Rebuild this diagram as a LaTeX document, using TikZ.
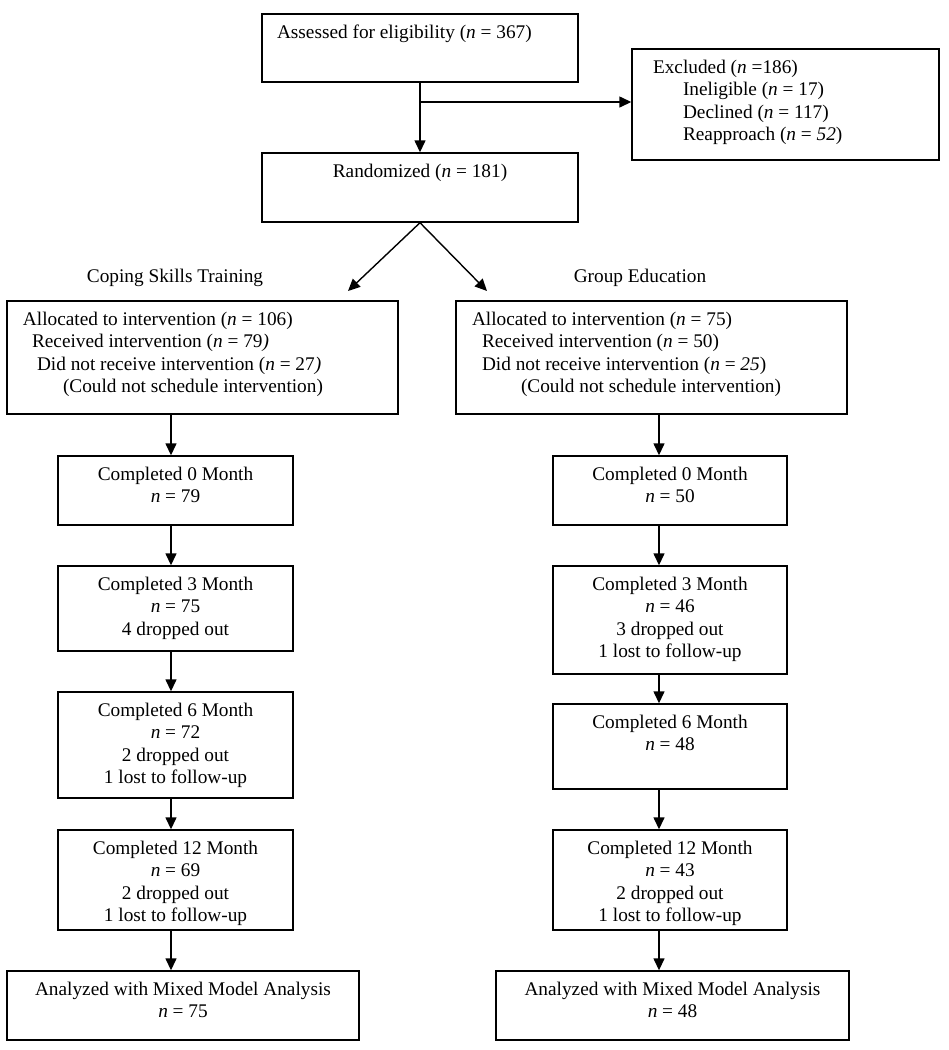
\documentclass[tikz,border=0pt]{standalone}
\usepackage{fontspec}
\setmainfont{Liberation Serif}
\usetikzlibrary{arrows.meta, positioning}

\newlength{\toppad}
\setlength{\toppad}{8.5pt}
\newcommand{\boxbody}[4][\centering]{\parbox[c][#3][t]{#2}{#1\vspace*{\toppad}\strut#4}}

\begin{document}
\begin{tikzpicture}[x=1pt, y=-1pt, font=\fontsize{19.3}{22.5}\selectfont,
    every node/.style={inner sep=0pt},
    box/.style={rectangle, draw, line width=1.4pt},
    arr/.style={-{Triangle[length=12pt, width=11pt]}, line width=1.4pt}]
    \useasboundingbox (0,0) rectangle (949,1050);

    \node[box] (assess) at (420,48) {\boxbody[\raggedright]{316pt}{68pt}{%
        \hspace*{15pt}Assessed for eligibility (\textit{n} = 367)}};
    \node[box] (excl) at (785.5,104.5) {\boxbody[\raggedright]{307pt}{111pt}{%
        \hspace*{21pt}Excluded (\textit{n} =186)\\
        \hspace*{51pt}Ineligible (\textit{n} = 17)\\
        \hspace*{51pt}Declined (\textit{n} = 117)\\
        \hspace*{51pt}Reapproach (\textit{n} = \textit{52})}};
    \node[box] (rand) at (420,187.5) {\boxbody{316pt}{69pt}{Randomized (\textit{n} = 181)}};

    \node (cstlabel) at (175,278) {Coping Skills Training};
    \node (gelabel) at (640,278) {Group Education};

    \node[box] (allocL) at (202.5,357.5) {\boxbody[\raggedright]{391pt}{113pt}{%
        \hspace*{16pt}Allocated to intervention (\textit{n} = 106)\\
        \hspace*{25pt}Received intervention (\textit{n} = 79\textit{)}\\
        \hspace*{30pt}Did not receive intervention (\textit{n} = 27\textit{)}\\
        \hspace*{56pt}(Could not schedule intervention)}};
    \node[box] (allocR) at (651.5,357.5) {\boxbody[\raggedright]{391pt}{113pt}{%
        \hspace*{16pt}Allocated to intervention (\textit{n} = 75)\\
        \hspace*{26pt}Received intervention (\textit{n} = 50)\\
        \hspace*{26pt}Did not receive intervention (\textit{n} = \textit{25})\\
        \hspace*{65pt}(Could not schedule intervention)}};

    \node[box] (cst0) at (175.5,490.5) {\boxbody{235pt}{69pt}{Completed 0 Month\\ \textit{n} = 79}};
    \node[box] (cst3) at (175.5,608.5) {\boxbody{235pt}{85pt}{Completed 3 Month\\ \textit{n} = 75\\ 4 dropped out}};
    \node[box] (cst6) at (175.5,745) {\boxbody{235pt}{106pt}{Completed 6 Month\\ \textit{n} = 72\\ 2 dropped out\\ 1 lost to follow-up}};
    \node[box] (cst12) at (175.5,880) {\boxbody{235pt}{100pt}{Completed 12 Month\\ \textit{n} = 69\\ 2 dropped out\\ 1 lost to follow-up}};
    \node[box] (cstmm) at (183,1005.5) {\boxbody{352pt}{69pt}{Analyzed with Mixed Model Analysis\\ \textit{n} = 75}};

    \node[box] (ge0) at (670,490.5) {\boxbody{234pt}{69pt}{Completed 0 Month\\ \textit{n} = 50}};
    \node[box] (ge3) at (670,620) {\boxbody{234pt}{108pt}{Completed 3 Month\\ \textit{n} = 46\\ 3 dropped out\\ 1 lost to follow-up}};
    \node[box] (ge6) at (670,746.5) {\boxbody{234pt}{85pt}{Completed 6 Month\\ \textit{n} = 48}};
    \node[box] (ge12) at (670,880) {\boxbody{234pt}{100pt}{Completed 12 Month\\ \textit{n} = 43\\ 2 dropped out\\ 1 lost to follow-up}};
    \node[box] (gemm) at (672.5,1005.5) {\boxbody{353pt}{69pt}{Analyzed with Mixed Model Analysis\\ \textit{n} = 48}};

    \coordinate (split) at (420,102);
    \coordinate (cstin) at (348,291);
    \coordinate (gein) at (487,291);
    \coordinate (lcol) at (171,0);
    \coordinate (rcol) at (659,0);

    \draw[arr] (assess) -- (rand);
    \draw[arr] (split) -- (split -| excl.west);
    \draw[arr] (rand.south) -- (cstin);
    \draw[arr] (rand.south) -- (gein);

    \draw[arr] (allocL.south -| lcol) -- (cst0.north -| lcol);
    \draw[arr] (cst0.south -| lcol) -- (cst3.north -| lcol);
    \draw[arr] (cst3.south -| lcol) -- (cst6.north -| lcol);
    \draw[arr] (cst6.south -| lcol) -- (cst12.north -| lcol);
    \draw[arr] (cst12.south -| lcol) -- (cstmm.north -| lcol);

    \draw[arr] (allocR.south -| rcol) -- (ge0.north -| rcol);
    \draw[arr] (ge0.south -| rcol) -- (ge3.north -| rcol);
    \draw[arr] (ge3.south -| rcol) -- (ge6.north -| rcol);
    \draw[arr] (ge6.south -| rcol) -- (ge12.north -| rcol);
    \draw[arr] (ge12.south -| rcol) -- (gemm.north -| rcol);
\end{tikzpicture}
\end{document}
